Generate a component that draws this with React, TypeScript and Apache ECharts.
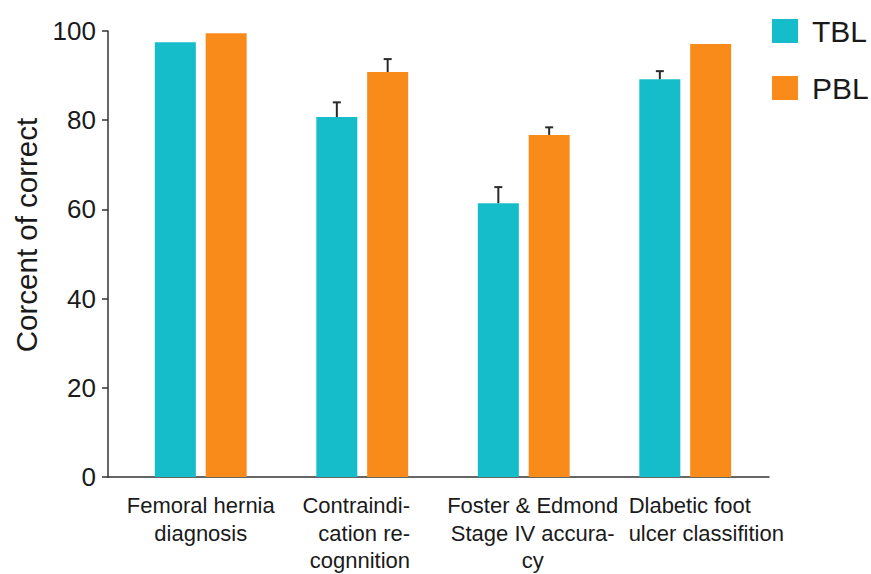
import React, { useEffect, useRef } from "react";
import * as echarts from "echarts";

const categories = [
  "Femoral hernia diagnosis",
  "Contraindication recognnition",
  "Foster & Edmond Stage IV accuracy",
  "Dlabetic foot ulcer classifition",
];
const categoryLines = [
  ["Femoral hernia", "diagnosis"],
  ["Contraindi-", "cation re-", "cognnition"],
  ["Foster & Edmond", "Stage IV accura-", "cy"],
  ["Dlabetic foot", "ulcer classifition"],
];
const categoryAlign = ["c", "r", "m", "l"];
const seriesNames = ["TBL", "PBL"];
const tblValues = [97.5, 80.7, 61.4, 89.2];
const pblValues = [99.5, 90.8, 76.7, 97.1];
const tblUpper: (number | null)[] = [null, 84.0, 65.0, 91.0];
const pblUpper: (number | null)[] = [null, 93.7, 78.4, null];
const yTicks = [0, 20, 40, 60, 80, 100];

const FONT = "'Liberation Sans', Arial, Helvetica, sans-serif";
const BAR_W = 41;
const GAP_RATIO = 0.24;
const COLORS = ["#15BDCB", "#F98B1A"];

function errorSeries(values: number[], upper: (number | null)[], side: number) {
  const data: number[][] = [];
  values.forEach((v, i) => {
    const u = upper[i];
    if (u !== null && u !== undefined) data.push([i, v, u]);
  });
  return {
    type: "custom",
    xAxisIndex: 0,
    yAxisIndex: 0,
    silent: true,
    z: 5,
    data,
    encode: { x: 0, y: [1, 2] },
    renderItem: (params: any, api: any) => {
      const cat = api.value(0);
      const base = api.coord([cat, api.value(1)]);
      const top = api.coord([cat, api.value(2)]);
      const off = side * (BAR_W + BAR_W * GAP_RATIO) / 2;
      const x = base[0] + off;
      const cap = 4;
      const st = { stroke: "#2a2a2a", lineWidth: 2 };
      return {
        type: "group",
        children: [
          { type: "line", shape: { x1: x, y1: base[1], x2: x, y2: top[1] }, style: st },
          { type: "line", shape: { x1: x - cap, y1: top[1], x2: x + cap, y2: top[1] }, style: st },
        ],
      };
    },
  };
}

export default function App() {
  const ref = useRef<HTMLDivElement>(null);
  useEffect(() => {
    if (!ref.current) return;
    const chart = echarts.init(ref.current, undefined, { renderer: "svg" });
    const richBase = { fontSize: 22, fontFamily: FONT, color: "#1a1a1a", lineHeight: 27.5 };
    chart.setOption({
      animation: false,
      backgroundColor: "#ffffff",
      legend: {
        orient: "vertical",
        left: 767,
        top: 11,
        itemWidth: 26,
        itemHeight: 24,
        itemGap: 27,
        icon: "rect",
        data: seriesNames,
        textStyle: { fontSize: 30, fontFamily: FONT, color: "#1a1a1a", padding: [0, 0, 0, 9] },
      },
      grid: [
        { left: 120, right: 105, top: 31, bottom: 97 },
        { left: 108, right: 102, top: 31, bottom: 97 },
      ],
      xAxis: [
        {
          type: "category",
          gridIndex: 0,
          data: categories,
          axisLine: { show: false },
          axisTick: { show: false },
          axisLabel: {
            margin: 15,
            interval: 0,
            formatter: (_v: string, idx: number) =>
              categoryLines[idx].map((l) => `{${categoryAlign[idx]}|${l}}`).join("\n"),
            rich: {
              c: { ...richBase, align: "center" },
              m: { ...richBase, align: "center", padding: [0, 0, 0, 18] },
              r: { ...richBase, align: "right", padding: [0, 12, 0, 0] },
              l: { ...richBase, align: "left", padding: [0, 0, 0, 42] },
            },
          },
        },
        {
          type: "value",
          gridIndex: 1,
          min: 0,
          max: 1,
          axisLine: { show: true, lineStyle: { color: "#333333", width: 1.5 } },
          axisTick: { show: false },
          axisLabel: { show: false },
          splitLine: { show: false },
        },
      ],
      yAxis: [
        {
          type: "value",
          gridIndex: 0,
          min: 0,
          max: 100,
          show: false,
          splitLine: { show: false },
        },
        {
          type: "value",
          gridIndex: 1,
          min: yTicks[0],
          max: yTicks[yTicks.length - 1],
          interval: 20,
          name: "Corcent of correct",
          nameLocation: "middle",
          nameGap: 66,
          nameTextStyle: { fontSize: 29.5, fontFamily: FONT, color: "#1a1a1a", padding: [0, 0, 0, 38] },
          axisLine: { show: true, lineStyle: { color: "#333333", width: 1.5 } },
          axisTick: { show: true, length: 6, lineStyle: { color: "#333333", width: 1.5 } },
          axisLabel: { fontSize: 26, fontFamily: FONT, color: "#1a1a1a", margin: 12 },
          splitLine: { show: false },
        },
      ],
      series: [
        {
          name: seriesNames[0],
          type: "bar",
          xAxisIndex: 0,
          yAxisIndex: 0,
          data: tblValues,
          barWidth: BAR_W,
          barGap: `${GAP_RATIO * 100}%`,
          itemStyle: { color: COLORS[0] },
        },
        {
          name: seriesNames[1],
          type: "bar",
          xAxisIndex: 0,
          yAxisIndex: 0,
          data: pblValues,
          barWidth: BAR_W,
          barGap: `${GAP_RATIO * 100}%`,
          itemStyle: { color: COLORS[1] },
        },
        errorSeries(tblValues, tblUpper, -1),
        errorSeries(pblValues, pblUpper, 1),
      ],
    });
    return () => chart.dispose();
  }, []);
  return (
    <div
      ref={ref}
      style={{ position: "fixed", left: 0, top: 0, width: 871, height: 574, background: "#fff" }}
    />
  );
}
